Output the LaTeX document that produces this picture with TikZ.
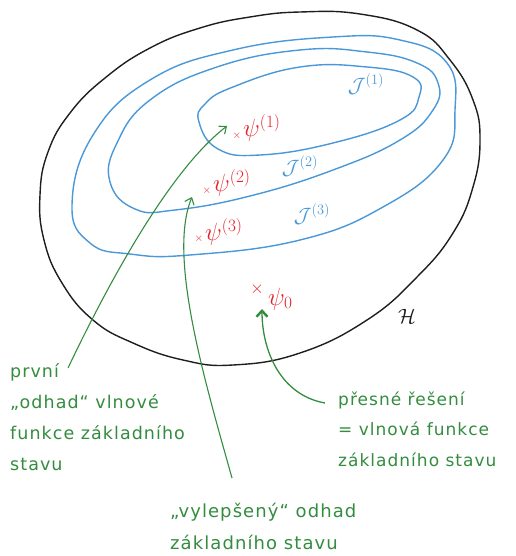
\documentclass[tikz,border=0pt]{standalone}
\usepackage{fontspec}
\usepackage{amsmath}
\newfontfamily\notefont[LetterSpace=6]{DejaVu Sans}
\usetikzlibrary{arrows.meta}
\definecolor{hblue}{RGB}{74,152,216}
\definecolor{hred}{RGB}{232,30,40}
\definecolor{hgreen}{RGB}{52,140,62}
\definecolor{hblack}{RGB}{30,30,30}
\tikzset{
  outerset/.style={draw=hblack, line width=1.4pt},
  level/.style={draw=hblue, line width=1.4pt},
  lbl/.style={text=hblue, font=\fontsize{20}{20}\selectfont, inner sep=0pt},
  psil/.style={text=hred, font=\fontsize{25}{25}\selectfont, inner sep=0pt},
  cross/.style={text=hred, font=\fontsize{11}{11}\selectfont, inner sep=0pt},
  note/.style={text=hgreen, font=\notefont\fontsize{17.5}{31}\selectfont, align=left, inner sep=0pt, anchor=base west},
  conn/.style={draw=hgreen, line width=1.1pt, -{Straight Barb[length=6pt,width=10pt]}},
  connbold/.style={draw=hgreen, line width=1.3pt, -{Straight Barb[length=6pt,width=11pt,line width=2.4pt]}},
}
\begin{document}
\begin{tikzpicture}[x=1pt,y=-1pt]
\useasboundingbox (0,0) rectangle (515,556);
% outer space
\draw[outerset] plot[smooth cycle, tension=0.75] coordinates {
 (300,12) (360,14) (417,30) (450,60) (473,100) (480,140) (473,187) (453,233) (417,277)
 (367,320) (300,353) (233,365) (183,360) (133,343) (93,320) (62,283) (44,240) (40,195)
 (48,152) (70,113) (105,78) (150,48) (200,28) (250,17)};
% level sets
\draw[level] plot[smooth cycle, tension=0.75] coordinates {
 (72,205) (90,243) (130,254) (190,255) (300,240) (383,207) (443,160) (455,110)
 (447,63) (400,40) (333,37) (233,50) (150,80) (93,135)};
\draw[level] plot[smooth cycle, tension=0.75] coordinates {
 (110,182) (135,209) (175,210) (250,196) (333,170) (400,140) (433,110) (438,83)
 (417,63) (367,52) (300,50) (217,67) (150,100) (117,143)};
\draw[level] plot[smooth cycle, tension=0.75] coordinates {
 (199,122) (218,149) (260,155) (333,143) (400,120) (419,97) (413,77)
 (367,67) (300,67) (233,87) (205,104)};
% labels of level sets
\node[lbl] (J1) at (366,84) {$\mathcal{J}^{(1)}$};
\node[lbl] (J2) at (300,166) {$\mathcal{J}^{(2)}$};
\node[lbl] (J3) at (312,214) {$\mathcal{J}^{(3)}$};
% approximations
\node[cross] (x1) at (237,136) {$\times$};
\node[psil, anchor=west] (p1) at (243,128) {$\psi^{(1)}$};
\node[cross] (x2) at (207,191) {$\times$};
\node[psil, anchor=west] (p2) at (213,183) {$\psi^{(2)}$};
\node[cross] (x3) at (199,239) {$\times$};
\node[psil, anchor=west] (p3) at (205,232) {$\psi^{(3)}$};
\node[cross, font=\fontsize{17}{17}\selectfont] (x0) at (257,289) {$\times$};
\node[psil, anchor=west] (p0) at (268,299) {$\psi_0$};
\node[text=hblack, font=\fontsize{22}{22}\selectfont, inner sep=0pt] (H) at (407,316) {$\mathcal{H}$};
% notes
\node[note] (n1) at (10,470) {první\\„odhad“ vlnové\\funkce základního\\stavu};
\node[note, font=\notefont\fontsize{17}{30.5}\selectfont] (n2) at (338,466) {přesné řešení\\= vlnová funkce\\základního stavu};
\node[note, font=\notefont\fontsize{18}{32}\selectfont] (n3) at (170,549) {„vylepšený“ odhad\\základního stavu};
% connector ends
\coordinate (a1s) at (68,368);
\coordinate (a1e) at (227,126);
\coordinate (a2s) at (232,478);
\coordinate (a2e) at (192,197);
\coordinate (a3s) at (325,403);
\coordinate (a3e) at (262,309);
\draw[conn] (a1s) .. controls (110,280) and (170,170) .. (a1e);
\draw[conn] (a2s) .. controls (203,375) and (168,255) .. (a2e);
\draw[connbold] (a3s) .. controls (280,395) and (262,350) .. (a3e);
\end{tikzpicture}
\end{document}
